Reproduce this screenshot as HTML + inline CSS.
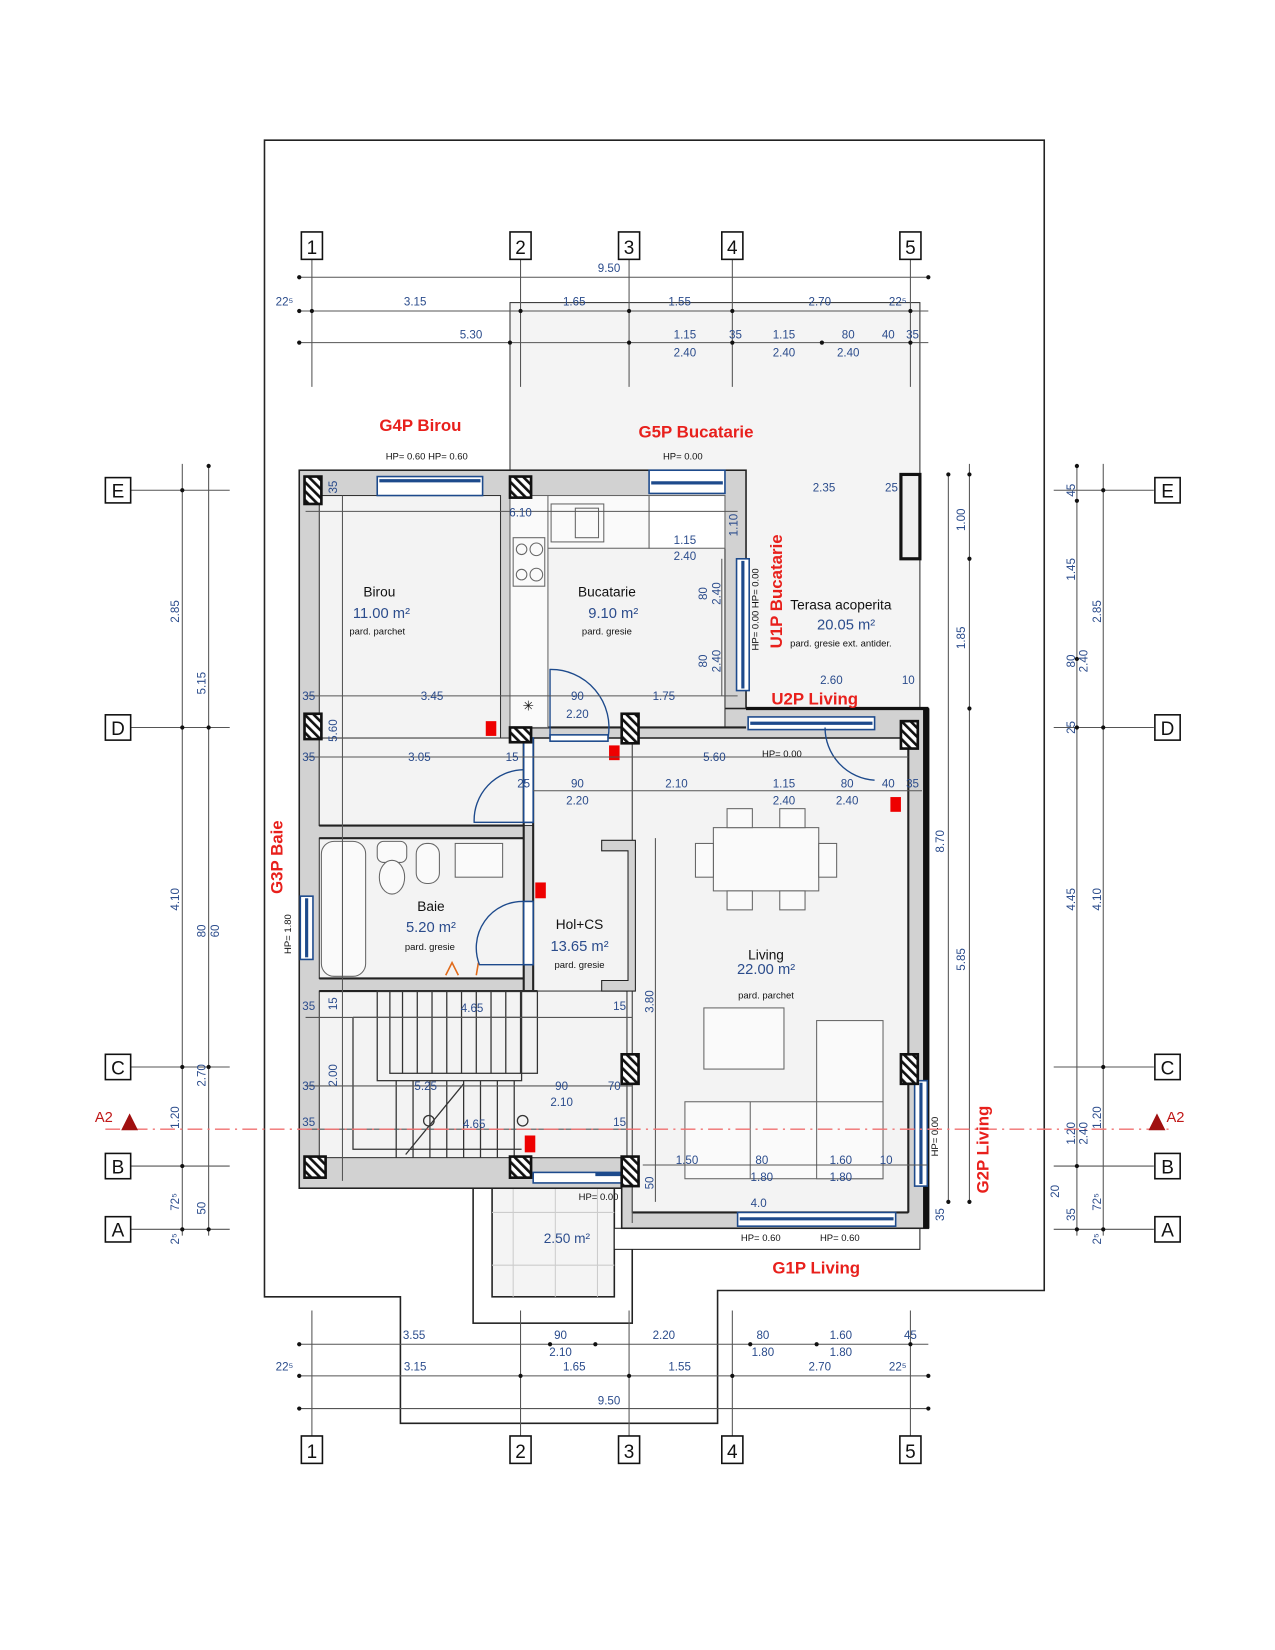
<!DOCTYPE html>
<html><head><meta charset="utf-8"><style>
html,body{margin:0;padding:0;background:#fff}
svg{display:block}
.b{fill:#2b4c8c;font-family:"Liberation Sans",sans-serif;font-size:11px}
.k{fill:#111;font-family:"Liberation Sans",sans-serif;font-size:13px}
.s{fill:#111;font-family:"Liberation Sans",sans-serif;font-size:9px}
.a{fill:#2b4c8c;font-family:"Liberation Sans",sans-serif;font-size:14px}
.r{fill:#e8201c;font-family:"Liberation Sans",sans-serif;font-size:16px;font-weight:bold}
.g{stroke:#555;stroke-width:1;fill:none}
.d{fill:#111}
.w{fill:#d2d2d2;stroke:#222;stroke-width:1.5}
.f{fill:#f3f3f3;stroke:#333;stroke-width:1}
.win{fill:#fff;stroke:#1d4a8c;stroke-width:1.5}
.wl{stroke:#1d4a8c;stroke-width:3}
.col{fill:url(#h);stroke:#111;stroke-width:2.5}
.fu{fill:#fafafa;stroke:#666;stroke-width:1}
</style></head><body>
<svg width="1275" height="1650" viewBox="0 0 1210 1565" preserveAspectRatio="none" xmlns="http://www.w3.org/2000/svg">
<defs><pattern id="h" width="6" height="6" patternUnits="userSpaceOnUse" patternTransform="rotate(-45)"><rect width="6" height="6" fill="#fff"/><rect width="2.5" height="6" fill="#111"/></pattern></defs>
<path d="M251,133 H991 V1224 H681 V1350 H380 V1230 H251 Z" fill="none" stroke="#222" stroke-width="1.5"/>
<rect x="484" y="287" width="389" height="385" fill="#f4f4f4" stroke="#333" stroke-width="1"/>
<rect x="449" y="1120" width="151" height="135" fill="#fff" stroke="#222" stroke-width="1.5"/>
<rect x="467" y="1120" width="116" height="110" fill="#f4f4f4" stroke="#222" stroke-width="1.5"/>
<g stroke="#ccc"><line x1="487" y1="1120" x2="487" y2="1230"/><line x1="527" y1="1120" x2="527" y2="1230"/><line x1="567" y1="1120" x2="567" y2="1230"/><line x1="467" y1="1150" x2="583" y2="1150"/><line x1="467" y1="1200" x2="583" y2="1200"/></g>
<rect x="583" y="1165" width="290" height="20" fill="#fff" stroke="#222"/>
<rect x="284" y="446" width="424" height="681" class="w"/>
<rect x="590" y="672" width="291" height="493" class="w"/>
<rect x="876" y="672" width="6" height="493" fill="#111"/>
<rect x="303" y="470" width="172" height="313" class="f"/>
<rect x="484" y="470" width="204" height="220" class="f"/>
<rect x="303" y="700" width="559" height="83" class="f"/>
<rect x="506" y="700" width="356" height="398" class="f"/>
<rect x="600" y="700" width="262" height="450" class="f" stroke="none"/>
<rect x="303" y="795" width="194" height="133" class="f"/>
<rect x="303" y="940" width="292" height="158" class="f"/>
<line x1="303" y1="783" x2="497" y2="783" stroke="#222" stroke-width="2"/>
<line x1="303" y1="795" x2="497" y2="795" stroke="#222" stroke-width="2"/>
<line x1="497" y1="700" x2="497" y2="940" stroke="#222" stroke-width="2"/>
<line x1="506" y1="700" x2="506" y2="940" stroke="#222" stroke-width="2"/>
<line x1="303" y1="928" x2="497" y2="928" stroke="#222" stroke-width="2"/>
<line x1="303" y1="940" x2="510" y2="940" stroke="#222" stroke-width="2"/>
<line x1="484" y1="690" x2="708" y2="690" stroke="#222" stroke-width="2"/>
<line x1="484" y1="700" x2="862" y2="700" stroke="#222" stroke-width="1.5"/>
<line x1="862" y1="690" x2="862" y2="1150" stroke="#222" stroke-width="2"/>
<line x1="600" y1="1150" x2="862" y2="1150" stroke="#222" stroke-width="2"/>
<line x1="708" y1="672" x2="881" y2="672" stroke="#111" stroke-width="3"/>
<rect x="484" y="470" width="132" height="50" class="fu"/>
<rect x="484" y="470" width="36" height="220" class="fu"/>
<rect x="616" y="470" width="72" height="50" fill="#fff" stroke="#666"/>
<rect x="523" y="478" width="50" height="36" class="fu"/><rect x="546" y="482" width="22" height="28" class="fu"/>
<g class="fu"><rect x="487" y="510" width="30" height="46"/><circle cx="495" cy="521" r="5"/><circle cx="509" cy="521" r="6"/><circle cx="495" cy="545" r="5"/><circle cx="509" cy="545" r="6"/></g>
<text x="496" y="674" class="k">✳</text>
<rect x="305" y="798" width="42" height="128" rx="12" class="fu"/>
<rect x="358" y="798" width="28" height="20" rx="6" class="fu"/><ellipse cx="372" cy="832" rx="12" ry="16" class="fu"/>
<rect x="395" y="800" width="22" height="38" rx="10" class="fu"/>
<rect x="432" y="800" width="45" height="32" class="fu"/>
<path d="M423,925 l6,-12 l6,12 M452,925 l2,-12" stroke="#e06a1a" fill="none" stroke-width="1.5"/>
<g stroke="#333" fill="none" stroke-width="1.2">
<rect x="370" y="940" width="140" height="78"/>
<line x1="370" y1="965" x2="510" y2="965"/>
<path d="M382,940 V1018 M396,940 V1018 M410,940 V1018 M424,940 V1018 M438,940 V1018 M452,940 V1018 M466,940 V1018 M480,940 V1018 M494,940 V1018"/>
<rect x="358" y="940" width="137" height="85"/>
<path d="M335,965 H370 M335,965 V1090 H495"/>
<path d="M376,1025 V1098 M392,1025 V1098 M408,1025 V1098 M424,1025 V1098 M440,1025 V1098 M456,1025 V1098 M472,1025 V1098 M488,1025 V1098"/>
<line x1="385" y1="1095" x2="440" y2="1028"/>
<circle cx="407" cy="1063" r="5"/><circle cx="496" cy="1063" r="5"/>
</g>
<path d="M571,797 H603 V940 H571 V930 H596 V807 H571 Z" fill="#d2d2d2" stroke="#222"/>
<g class="fu">
<rect x="677" y="785" width="100" height="60"/>
<rect x="690" y="767" width="24" height="18"/><rect x="740" y="767" width="24" height="18"/>
<rect x="690" y="845" width="24" height="18"/><rect x="740" y="845" width="24" height="18"/>
<rect x="660" y="800" width="17" height="32"/><rect x="777" y="800" width="17" height="32"/>
<rect x="668" y="956" width="76" height="58"/>
<rect x="775" y="968" width="63" height="150"/>
<rect x="650" y="1045" width="188" height="73"/>
<line x1="712" y1="1045" x2="712" y2="1118"/><line x1="775" y1="1045" x2="775" y2="1118"/>
</g>
<rect x="358" y="452" width="100" height="18" class="win"/><line x1="360" y1="456" x2="456" y2="456" class="wl"/>
<rect x="616" y="446" width="72" height="22" class="win"/><line x1="618" y1="458" x2="686" y2="458" class="wl"/>
<rect x="699" y="530" width="12" height="125" class="win"/><line x1="705" y1="532" x2="705" y2="653" class="wl"/>
<rect x="710" y="680" width="120" height="12" class="win"/><line x1="712" y1="686" x2="828" y2="686" class="wl"/>
<rect x="285" y="850" width="12" height="60" class="win"/><line x1="291" y1="852" x2="291" y2="908" class="wl"/>
<rect x="868" y="1025" width="12" height="100" class="win"/><line x1="874" y1="1027" x2="874" y2="1123" class="wl"/>
<rect x="700" y="1150" width="150" height="13" class="win"/><line x1="702" y1="1156" x2="848" y2="1156" class="wl"/>
<rect x="506" y="1112" width="84" height="10" class="win"/><line x1="565" y1="1114" x2="590" y2="1114" class="wl"/>
<rect x="497" y="700" width="9" height="80" class="win"/><rect x="497" y="855" width="9" height="60" class="win"/>
<rect x="522" y="697" width="55" height="6" class="win"/>
<g fill="none" stroke="#1d4a8c" stroke-width="1.3">
<path d="M522,700 V635 A55,55 0 0 1 577,700"/>
<path d="M497,780 H450 A48,48 0 0 1 497,730"/>
<path d="M497,915 H455 A44,44 0 0 1 497,855"/>
<path d="M783,690 A50,50 0 0 0 830,740"/>
</g>
<g class="col">
<rect x="289" y="452" width="16" height="26"/><rect x="484" y="452" width="20" height="20"/>
<rect x="289" y="677" width="16" height="24"/><rect x="484" y="690" width="20" height="14"/>
<rect x="590" y="677" width="16" height="28"/><rect x="855" y="684" width="16" height="26"/>
<rect x="590" y="1000" width="16" height="28"/><rect x="855" y="1000" width="16" height="28"/>
<rect x="289" y="1097" width="20" height="20"/><rect x="484" y="1097" width="20" height="20"/>
<rect x="590" y="1097" width="16" height="28"/>
</g>
<rect x="855" y="450" width="18" height="80" fill="#eee" stroke="#111" stroke-width="3"/>
<g fill="#ee0000"><rect x="461" y="684" width="10" height="14"/><rect x="578" y="707" width="10" height="14"/><rect x="845" y="756" width="10" height="14"/><rect x="508" y="837" width="10" height="15"/><rect x="498" y="1077" width="10" height="16"/></g>
<g class="g">
<path d="M296,246 V367 M494,246 V367 M597,246 V367 M695,246 V367 M864,246 V367"/>
<path d="M296,1243 V1362 M494,1243 V1362 M597,1243 V1362 M695,1243 V1362 M864,1243 V1362"/>
<path d="M124,465 H218 M124,690 H218 M124,1012 H218 M124,1106 H218 M124,1166 H218"/>
<path d="M1000,465 H1095 M1000,690 H1095 M1000,1012 H1095 M1000,1106 H1095 M1000,1166 H1095"/>
<path d="M282,263 H881 M282,295 H881 M282,325 H881"/>
<path d="M282,1275 H881 M282,1305 H881 M282,1336 H881"/>
<path d="M173,440 V1172 M198,440 V1172 M1022,440 V1172 M1047,440 V1172 M900,450 V1140 M920,440 V1140"/>
<path d="M290,485 H700 M290,660 H700 M290,718 H862 M506,750 H875 M290,965 H600 M290,1030 H600 M290,1071 H600 M610,1105 H880 M325,470 V1120 M622,795 V1140 M685,530 V660 M600,1128 V1160"/>
</g>
<line x1="100" y1="1071" x2="1110" y2="1071" stroke="#f07070" stroke-width="1.3" stroke-dasharray="14,5,2,5"/>
<path d="M115,1072 l8,-16 l8,16 Z M1090,1072 l8,-16 l8,16 Z" fill="#a01010"/>
<g class="d">
<circle cx="284" cy="263" r="2"/><circle cx="881" cy="263" r="2"/>
<circle cx="284" cy="295" r="2"/><circle cx="296" cy="295" r="2"/><circle cx="494" cy="295" r="2"/><circle cx="597" cy="295" r="2"/><circle cx="695" cy="295" r="2"/><circle cx="864" cy="295" r="2"/>
<circle cx="284" cy="325" r="2"/><circle cx="484" cy="325" r="2"/><circle cx="597" cy="325" r="2"/><circle cx="695" cy="325" r="2"/><circle cx="780" cy="325" r="2"/><circle cx="864" cy="325" r="2"/>
<circle cx="284" cy="1275" r="2"/><circle cx="522" cy="1275" r="2"/><circle cx="565" cy="1275" r="2"/><circle cx="712" cy="1275" r="2"/><circle cx="775" cy="1275" r="2"/><circle cx="864" cy="1275" r="2"/>
<circle cx="284" cy="1305" r="2"/><circle cx="494" cy="1305" r="2"/><circle cx="597" cy="1305" r="2"/><circle cx="695" cy="1305" r="2"/><circle cx="881" cy="1305" r="2"/>
<circle cx="284" cy="1336" r="2"/><circle cx="881" cy="1336" r="2"/>
<circle cx="173" cy="465" r="2"/><circle cx="173" cy="690" r="2"/><circle cx="173" cy="1012" r="2"/><circle cx="173" cy="1106" r="2"/><circle cx="173" cy="1166" r="2"/>
<circle cx="198" cy="442" r="2"/><circle cx="198" cy="690" r="2"/><circle cx="198" cy="1012" r="2"/><circle cx="198" cy="1166" r="2"/>
<circle cx="1022" cy="442" r="2"/><circle cx="1022" cy="475" r="2"/><circle cx="1022" cy="625" r="2"/><circle cx="1022" cy="690" r="2"/><circle cx="1022" cy="1106" r="2"/><circle cx="1022" cy="1166" r="2"/>
<circle cx="1047" cy="465" r="2"/><circle cx="1047" cy="690" r="2"/><circle cx="1047" cy="1012" r="2"/><circle cx="1047" cy="1166" r="2"/>
<circle cx="900" cy="450" r="2"/><circle cx="920" cy="450" r="2"/><circle cx="920" cy="530" r="2"/><circle cx="920" cy="672" r="2"/><circle cx="920" cy="1140" r="2"/><circle cx="900" cy="1140" r="2"/>
</g>
<g fill="#fff" stroke="#111" stroke-width="1.5">
<rect x="286" y="220" width="20" height="26"/><rect x="484" y="220" width="20" height="26"/><rect x="587" y="220" width="20" height="26"/><rect x="685" y="220" width="20" height="26"/><rect x="854" y="220" width="20" height="26"/>
<rect x="286" y="1362" width="20" height="26"/><rect x="484" y="1362" width="20" height="26"/><rect x="587" y="1362" width="20" height="26"/><rect x="685" y="1362" width="20" height="26"/><rect x="854" y="1362" width="20" height="26"/>
<rect x="100" y="453" width="24" height="24"/><rect x="100" y="678" width="24" height="24"/><rect x="100" y="1000" width="24" height="24"/><rect x="100" y="1094" width="24" height="24"/><rect x="100" y="1154" width="24" height="24"/>
<rect x="1096" y="453" width="24" height="24"/><rect x="1096" y="678" width="24" height="24"/><rect x="1096" y="1000" width="24" height="24"/><rect x="1096" y="1094" width="24" height="24"/><rect x="1096" y="1154" width="24" height="24"/>
</g>
<g font-family="Liberation Sans,sans-serif" font-size="18" fill="#111" text-anchor="middle">
<text x="296" y="241">1</text><text x="494" y="241">2</text><text x="597" y="241">3</text><text x="695" y="241">4</text><text x="864" y="241">5</text>
<text x="296" y="1383">1</text><text x="494" y="1383">2</text><text x="597" y="1383">3</text><text x="695" y="1383">4</text><text x="864" y="1383">5</text>
<text x="112" y="472">E</text><text x="112" y="697">D</text><text x="112" y="1019">C</text><text x="112" y="1113">B</text><text x="112" y="1173">A</text>
<text x="1108" y="472">E</text><text x="1108" y="697">D</text><text x="1108" y="1019">C</text><text x="1108" y="1113">B</text><text x="1108" y="1173">A</text>
</g>
<text x="360" y="409" class="r">G4P Birou</text>
<text x="606" y="415" class="r">G5P Bucatarie</text>
<text x="732" y="668" class="r">U2P Living</text>
<text x="733" y="1208" class="r">G1P Living</text>
<text class="r" transform="translate(742,615) rotate(-90)">U1P Bucatarie</text>
<text class="r" transform="translate(268,848) rotate(-90)">G3P Baie</text>
<text class="r" transform="translate(938,1132) rotate(-90)">G2P Living</text>
<text x="90" y="1064" fill="#c01818" font-family="Liberation Sans,sans-serif" font-size="14">A2</text>
<text x="1107" y="1064" fill="#c01818" font-family="Liberation Sans,sans-serif" font-size="14">A2</text>
<g text-anchor="middle">
<text x="360" y="566" class="k">Birou</text><text x="362" y="586" class="a">11.00 m²</text><text x="358" y="602" class="s">pard. parchet</text>
<text x="576" y="566" class="k">Bucatarie</text><text x="582" y="586" class="a">9.10 m²</text><text x="576" y="602" class="s">pard. gresie</text>
<text x="798" y="578" class="k">Terasa acoperita</text><text x="803" y="597" class="a">20.05 m²</text><text x="798" y="613" class="s">pard. gresie ext. antider.</text>
<text x="409" y="864" class="k">Baie</text><text x="409" y="884" class="a">5.20 m²</text><text x="408" y="901" class="s">pard. gresie</text>
<text x="550" y="881" class="k">Hol+CS</text><text x="550" y="902" class="a">13.65 m²</text><text x="550" y="918" class="s">pard. gresie</text>
<text x="727" y="910" class="k">Living</text><text x="727" y="924" class="a">22.00 m²</text><text x="727" y="947" class="s">pard. parchet</text>
<text x="538" y="1179" class="a" style="font-size:13px">2.50 m²</text>
</g>
<g class="b" text-anchor="middle">
<text x="578" y="258">9.50</text><text x="270" y="290">22⁵</text><text x="394" y="290">3.15</text><text x="545" y="290">1.65</text><text x="645" y="290">1.55</text><text x="778" y="290">2.70</text><text x="852" y="290">22⁵</text>
<text x="447" y="321">5.30</text><text x="650" y="321">1.15</text><text x="698" y="321">35</text><text x="744" y="321">1.15</text><text x="805" y="321">80</text><text x="843" y="321">40</text><text x="866" y="321">35</text>
<text x="650" y="338">2.40</text><text x="744" y="338">2.40</text><text x="805" y="338">2.40</text>
<text x="405" y="436" class="s">HP= 0.60 HP= 0.60</text><text x="648" y="436" class="s">HP= 0.00</text>
<text x="494" y="490">6.10</text><text x="650" y="516">1.15</text><text x="650" y="531">2.40</text><text x="782" y="466">2.35</text><text x="846" y="466">25</text>
<text x="410" y="664">3.45</text><text x="548" y="664">90</text><text x="548" y="681">2.20</text><text x="630" y="664">1.75</text><text x="789" y="649">2.60</text><text x="862" y="649">10</text>
<text x="293" y="664">35</text><text x="293" y="722">35</text><text x="398" y="722">3.05</text><text x="486" y="722">15</text><text x="678" y="722">5.60</text><text x="742" y="718" class="s">HP= 0.00</text>
<text x="497" y="747">25</text><text x="548" y="747">90</text><text x="548" y="763">2.20</text><text x="642" y="747">2.10</text><text x="744" y="747">1.15</text><text x="744" y="763">2.40</text><text x="804" y="747">80</text><text x="804" y="763">2.40</text><text x="843" y="747">40</text><text x="866" y="747">35</text>
<text x="293" y="958">35</text><text x="448" y="960">4.65</text><text x="588" y="958">15</text><text x="293" y="1034">35</text><text x="404" y="1034">5.25</text><text x="533" y="1034">90</text><text x="533" y="1049">2.10</text><text x="583" y="1034">70</text>
<text x="293" y="1068">35</text><text x="450" y="1070">4.65</text><text x="588" y="1068">15</text>
<text x="652" y="1104">1.50</text><text x="723" y="1104">80</text><text x="723" y="1120">1.80</text><text x="798" y="1104">1.60</text><text x="798" y="1120">1.80</text><text x="841" y="1104">10</text>
<text x="568" y="1138" class="s">HP= 0.00</text><text x="720" y="1145">4.0</text><text x="722" y="1177" class="s">HP= 0.60</text><text x="797" y="1177" class="s">HP= 0.60</text>
<text x="393" y="1270">3.55</text><text x="532" y="1270">90</text><text x="532" y="1286">2.10</text><text x="630" y="1270">2.20</text><text x="724" y="1270">80</text><text x="724" y="1286">1.80</text><text x="798" y="1270">1.60</text><text x="798" y="1286">1.80</text><text x="864" y="1270">45</text>
<text x="270" y="1300">22⁵</text><text x="394" y="1300">3.15</text><text x="545" y="1300">1.65</text><text x="645" y="1300">1.55</text><text x="778" y="1300">2.70</text><text x="852" y="1300">22⁵</text><text x="578" y="1332">9.50</text>
</g>
<g class="b" text-anchor="middle">
<text transform="translate(170,580) rotate(-90)">2.85</text><text transform="translate(195,648) rotate(-90)">5.15</text>
<text transform="translate(170,853) rotate(-90)">4.10</text><text transform="translate(195,883) rotate(-90)">80</text><text transform="translate(208,883) rotate(-90)">60</text>
<text transform="translate(195,1020) rotate(-90)">2.70</text><text transform="translate(170,1060) rotate(-90)">1.20</text>
<text transform="translate(170,1140) rotate(-90)">72⁵</text><text transform="translate(195,1146) rotate(-90)">50</text><text transform="translate(170,1175) rotate(-90)">2⁵</text>
<text transform="translate(320,462) rotate(-90)">35</text><text transform="translate(320,693) rotate(-90)">5.60</text><text transform="translate(320,952) rotate(-90)">15</text><text transform="translate(320,1020) rotate(-90)">2.00</text>
<text transform="translate(700,498) rotate(-90)">1.10</text><text transform="translate(671,563) rotate(-90)">80</text><text transform="translate(684,563) rotate(-90)">2.40</text><text transform="translate(671,627) rotate(-90)">80</text><text transform="translate(684,627) rotate(-90)">2.40</text>
<text transform="translate(720,578) rotate(-90)" class="s">HP= 0.00 HP= 0.00</text>
<text transform="translate(276,886) rotate(-90)" class="s">HP= 1.80</text>
<text transform="translate(620,950) rotate(-90)">3.80</text><text transform="translate(620,1122) rotate(-90)">50</text>
<text transform="translate(896,798) rotate(-90)">8.70</text><text transform="translate(916,910) rotate(-90)">5.85</text><text transform="translate(916,493) rotate(-90)">1.00</text><text transform="translate(916,605) rotate(-90)">1.85</text>
<text transform="translate(896,1152) rotate(-90)">35</text><text transform="translate(890,1078) rotate(-90)" class="s">HP= 0.00</text>
<text transform="translate(1020,465) rotate(-90)">45</text><text transform="translate(1020,540) rotate(-90)">1.45</text><text transform="translate(1045,580) rotate(-90)">2.85</text><text transform="translate(1020,627) rotate(-90)">80</text><text transform="translate(1032,627) rotate(-90)">2.40</text><text transform="translate(1020,690) rotate(-90)">25</text>
<text transform="translate(1020,853) rotate(-90)">4.45</text><text transform="translate(1045,853) rotate(-90)">4.10</text><text transform="translate(1020,1075) rotate(-90)">1.20</text><text transform="translate(1032,1075) rotate(-90)">2.40</text><text transform="translate(1045,1060) rotate(-90)">1.20</text>
<text transform="translate(1005,1130) rotate(-90)">20</text><text transform="translate(1020,1152) rotate(-90)">35</text><text transform="translate(1045,1140) rotate(-90)">72⁵</text><text transform="translate(1045,1175) rotate(-90)">2⁵</text>
</g>
</svg>
</body></html>
